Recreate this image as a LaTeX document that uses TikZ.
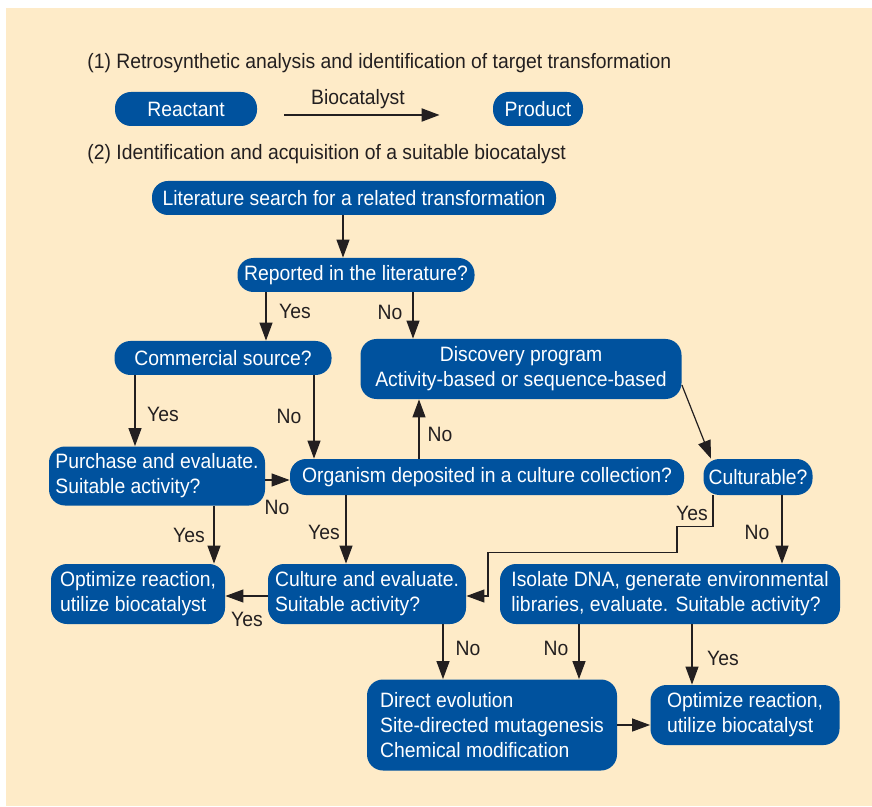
\documentclass[tikz,border=0pt]{standalone}
\usepackage{fontspec}
\setmainfont[FakeStretch=0.93]{Liberation Sans}
\usetikzlibrary{arrows.meta}
\definecolor{bgbeige}{RGB}{254,235,200}
\definecolor{boxblue}{RGB}{0,82,158}
\definecolor{ink}{RGB}{35,31,32}
\tikzset{
  flow/.style={fill=boxblue, text=white, rounded corners=8pt, inner sep=0pt, font=\fontsize{10.4}{12.5}\selectfont},
  lbl/.style={text=ink, inner sep=0pt, font=\fontsize{10.4}{12.5}\selectfont},
  arr/.style={draw=ink, line width=0.6pt, -{Triangle[length=9pt,width=6.5pt]}}
}

\begin{document}
\begin{tikzpicture}[x=0.5pt, y=-0.5pt]
  \useasboundingbox (0,0) rectangle (872,807);
  \fill[bgbeige] (6,8) rectangle (872,806);

  % (1) Target transformation
  \node[lbl, anchor=west] (step1) at (87,63) {(1) Retrosynthetic analysis and identification of target transformation};
  \node[flow, minimum width=71pt, minimum height=17pt] (reac) at (186,109) {Reactant};
  \node[flow, minimum width=45pt, minimum height=17pt] (prod) at (538,109) {Product};
  \draw[arr, line width=1pt] ([shift={(13.5pt,-3pt)}]reac.east) -- ([shift={(-26.5pt,-3pt)}]prod.west)
    node[lbl, midway, above=2.5pt, xshift=-2pt] (bio) {Biocatalyst};

  % (2) Biocatalyst search
  \node[lbl, anchor=west] (step2) at (87,154) {(2) Identification and acquisition of a suitable biocatalyst};
  \node[flow, minimum width=202pt, minimum height=17pt] (lit) at (354,198) {Literature search for a related transformation};
  \node[flow, minimum width=118.5pt, minimum height=17pt] (rep) at (356,275) {Reported in the literature?};
  \node[flow, minimum width=108.5pt, minimum height=17pt] (com) at (223,358) {Commercial source?};
  \node[flow, minimum width=160.5pt, minimum height=30pt, align=center] (disc) at (521,369) {Discovery program\\Activity-based or sequence-based};
  \node[flow, minimum width=108pt, minimum height=29.5pt, align=left] (pur) at (157,476) {Purchase and evaluate.\\Suitable activity?};
  \node[flow, minimum width=197pt, minimum height=18pt] (org) at (487,477) {Organism deposited in a culture collection?};
  \node[flow, minimum width=54.5pt, minimum height=18pt] (cult) at (758,477) {Culturable?};
  \node[flow, minimum width=87pt, minimum height=30pt, align=left] (opt1) at (138,594) {Optimize reaction,\\utilize biocatalyst};
  \node[flow, minimum width=99pt, minimum height=30pt, align=left] (cul) at (367,594) {Culture and evaluate.\\Suitable activity?};
  \node[flow, minimum width=170pt, minimum height=30pt, align=left] (iso) at (670,594) {Isolate DNA, generate environmental\\libraries, evaluate. Suitable activity?};
  \node[flow, minimum width=125pt, minimum height=45.5pt, align=left] (dir) at (492,725) {Direct evolution\\Site-directed mutagenesis\\Chemical modification};
  \node[flow, minimum width=94.5pt, minimum height=30pt, align=left] (opt2) at (745,715) {Optimize reaction,\\utilize biocatalyst};

  % Connectors
  \draw[arr] ([xshift=-5.5pt]lit.south) -- ([xshift=-5.5pt]lit.south |- rep.north);
  \draw[arr] ([xshift=-45pt]rep.south) -- ([xshift=-45pt]rep.south |- com.north);
  \draw[arr] ([xshift=28.5pt]rep.south) -- ([xshift=28.5pt]rep.south |- disc.north);
  \draw[arr] ([xshift=-44pt]com.south) -- ([xshift=-44pt]com.south |- pur.north);
  \draw[arr] ([xshift=45.5pt]com.south) -- ([xshift=45.5pt]com.south |- org.north);
  \draw[arr] ([yshift=-2pt]pur.east) -- ([yshift=-2pt]pur.east -| org.west);
  \draw[arr] ([xshift=-34pt]org.north) -- ([xshift=-34pt]org.north |- disc.south);
  \draw[arr] ([yshift=-8pt]disc.east) -- ([xshift=-23.5pt]cult.north);
  \draw[arr] ([xshift=-22.5pt]cult.south) -- ++(0,-15.5pt) -- ++(-18pt,0) -- ++(0,-13pt) -- ++(-94.5pt,0)
    |- ([yshift=-1pt]cul.east);
  \draw[arr] ([xshift=12pt]cult.south) -- ([xshift=12pt]cult.south |- iso.north);
  \draw[arr] ([xshift=28.5pt]pur.south) -- ([xshift=28.5pt]pur.south |- opt1.north);
  \draw[arr] ([xshift=-70.5pt]org.south) -- ([xshift=-70.5pt]org.south |- cul.north);
  \draw[arr] ([yshift=-1pt]cul.west) -- ([yshift=-1pt]cul.west -| opt1.east);
  \draw[arr] ([xshift=38pt]cul.south) -- ([xshift=38pt]cul.south |- dir.north);
  \draw[arr] ([xshift=-45.5pt]iso.south) -- ([xshift=-45.5pt]iso.south |- dir.north);
  \draw[arr] ([xshift=11pt]iso.south) -- ([xshift=11pt]iso.south |- opt2.north);
  \draw[arr] (dir.east) -- (dir.east -| opt2.west);

  % Yes / No labels
  \node[lbl] (yes1) at (295,311) {Yes};
  \node[lbl] (no1) at (390,312) {No};
  \node[lbl] (yes2) at (163,414) {Yes};
  \node[lbl] (no2) at (289,416) {No};
  \node[lbl] (no3) at (440,434) {No};
  \node[lbl] (no4) at (277,507) {No};
  \node[lbl] (yes3) at (692,513) {Yes};
  \node[lbl] (no5) at (757,532) {No};
  \node[lbl] (yes4) at (189,535) {Yes};
  \node[lbl] (yes5) at (324,532) {Yes};
  \node[lbl] (yes6) at (247,619) {Yes};
  \node[lbl] (no6) at (468,648) {No};
  \node[lbl] (no7) at (556,648) {No};
  \node[lbl] (yes7) at (723,658) {Yes};
\end{tikzpicture}
\end{document}
